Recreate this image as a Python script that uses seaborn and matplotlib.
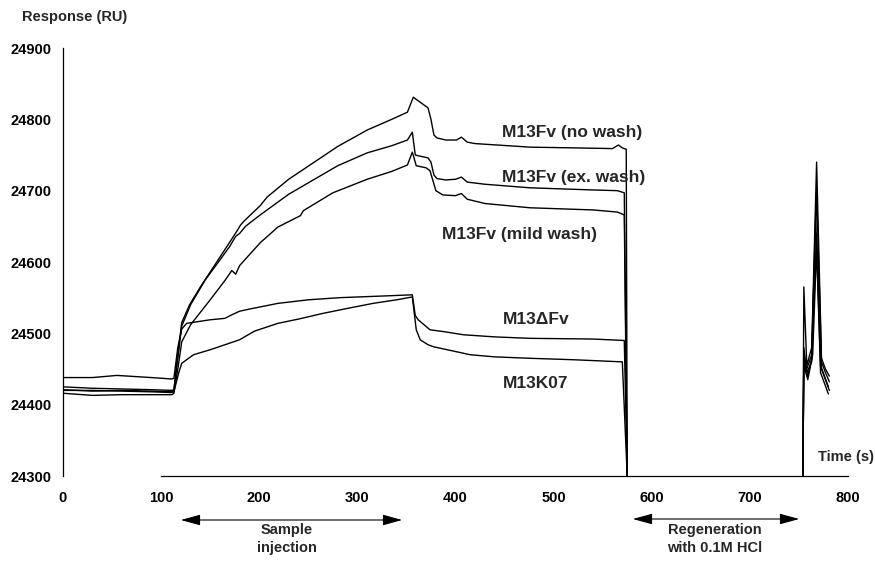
import numpy as np
import pandas as pd
import matplotlib
matplotlib.use("Agg")
import matplotlib.pyplot as plt
import seaborn as sns
from matplotlib.patches import FancyArrowPatch

# ---------------- data ----------------
nowash_t = [0, 30, 60, 90, 111, 113, 117, 121, 129, 140, 160, 170, 178, 181, 185, 201, 208, 230, 255, 280,
            310, 335, 351, 357, 372, 375, 378, 381, 390, 401, 406, 412, 420, 476, 520, 560, 566, 570,
            574, 575, 754, 755, 758, 763, 768, 773, 777, 781]
nowash_ru = [24421, 24419, 24420, 24419, 24418, 24420, 24470, 24515, 24540, 24565, 24607, 24628, 24645,
             24652, 24658, 24679, 24691, 24716, 24739, 24762, 24785, 24800, 24810, 24831, 24816, 24800,
             24778, 24774, 24771, 24771, 24775, 24768, 24766, 24761, 24760, 24759, 24764, 24760, 24758,
             24300, 24300, 24565, 24455, 24480, 24740, 24465, 24450, 24440]

exwash_t = [0, 30, 60, 90, 111, 113, 117, 121, 130, 145, 160, 170, 176, 180, 186, 201, 208, 230, 255, 280,
            310, 335, 351, 356, 359, 365, 372, 375, 378, 381, 390, 400, 406, 412, 430, 476, 540, 565,
            572, 575, 754, 755, 758, 763, 768, 773, 777, 781]
exwash_ru = [24425, 24423, 24422, 24421, 24420, 24421, 24465, 24510, 24540, 24575, 24603, 24622, 24636,
             24640, 24650, 24666, 24673, 24695, 24715, 24735, 24753, 24763, 24771, 24782, 24750, 24748,
             24746, 24740, 24722, 24717, 24715, 24716, 24719, 24712, 24709, 24704, 24701, 24700, 24697,
             24300, 24300, 24470, 24450, 24470, 24700, 24460, 24445, 24432]

mild_t = [0, 30, 60, 90, 111, 113, 117, 121, 130, 150, 165, 172, 176, 180, 201, 219, 242, 245, 275, 310,
          335, 351, 356, 360, 370, 374, 380, 387, 400, 406, 412, 430, 476, 540, 565, 572, 575, 754, 755,
          759, 763, 767, 772, 776, 780]
mild_ru = [24416, 24413, 24414, 24414, 24414, 24416, 24450, 24488, 24512, 24547, 24574, 24588, 24583,
           24595, 24627, 24649, 24665, 24672, 24697, 24716, 24727, 24736, 24754, 24735, 24732, 24728,
           24700, 24694, 24693, 24696, 24688, 24682, 24676, 24673, 24670, 24666, 24300, 24300, 24460,
           24440, 24465, 24665, 24455, 24440, 24425]

dfv_t = [0, 30, 55, 90, 111, 113, 117, 121, 126, 150, 165, 172, 180, 190, 219, 250, 282, 320, 356, 359,
         362, 374, 390, 408, 440, 476, 540, 572, 575, 754, 755, 758, 763, 768, 773, 777, 781]
dfv_ru = [24438, 24438, 24441, 24438, 24436, 24437, 24480, 24506, 24514, 24519, 24521, 24526, 24531,
          24534, 24542, 24547, 24550, 24552, 24554, 24525, 24519, 24505, 24502, 24498, 24495, 24493,
          24492, 24490, 24300, 24300, 24480, 24445, 24460, 24640, 24450, 24435, 24420]

k07_t = [0, 30, 60, 90, 111, 113, 118, 121, 133, 150, 165, 180, 195, 219, 240, 265, 290, 316, 340, 356,
         360, 364, 372, 378, 395, 415, 440, 476, 520, 570, 575, 754, 755, 759, 764, 768, 772, 776, 780]
k07_ru = [24420, 24420, 24419, 24418, 24417, 24418, 24445, 24458, 24470, 24477, 24484, 24491, 24503,
          24514, 24520, 24528, 24535, 24542, 24547, 24551, 24505, 24491, 24484, 24481, 24476, 24470,
          24467, 24465, 24463, 24460, 24300, 24300, 24455, 24435, 24470, 24620, 24445, 24430, 24415]

series_names = ["M13Fv (no wash)", "M13Fv (ex. wash)", "M13Fv (mild wash)", "M13\u0394Fv", "M13K07"]
label_t = [447, 447, 386, 448, 448]
label_ru = [24781, 24718, 24638, 24519, 24430]

x_ticks = [0, 100, 200, 300, 400, 500, 600, 700, 800]
y_ticks = [24300, 24400, 24500, 24600, 24700, 24800, 24900]

# ---------------- build table ----------------
rows = []
for name, t, ru in zip(series_names,
                       [nowash_t, exwash_t, mild_t, dfv_t, k07_t],
                       [nowash_ru, exwash_ru, mild_ru, dfv_ru, k07_ru]):
    for ti, ri in zip(t, ru):
        seg = "a" if ti < 700 else "b"
        rows.append({"time": ti, "ru": ri, "sample": name, "unit": name + seg})
df = pd.DataFrame(rows)

# ---------------- plot ----------------
sns.set_style("white")
plt.rcParams["font.family"] = ["Liberation Sans", "DejaVu Sans"]
plt.rcParams["font.weight"] = "bold"

fig = plt.figure(figsize=(8.75, 5.61), dpi=100)
ax = fig.add_axes([63 / 875, 1 - 476 / 561, (848 - 63) / 875, (476 - 48) / 561])

sns.lineplot(data=df, x="time", y="ru", hue="sample", units="unit", estimator=None,
             sort=False, palette=["black"] * 5, linewidth=1.0, legend=False, ax=ax)

ax.set_xlim(0, 800)
ax.set_ylim(24300, 24900)
ax.set_xticks(x_ticks)
ax.set_yticks(y_ticks)
ax.set_xticklabels([str(v) for v in x_ticks], fontsize=10.5, fontweight="bold")
ax.set_yticklabels([str(v) for v in y_ticks], fontsize=10.5, fontweight="bold")
ax.set_xlabel("")
ax.set_ylabel("")
for s in ["top", "right"]:
    ax.spines[s].set_visible(False)
ax.spines["left"].set_bounds(24300, 24900)
ax.spines["bottom"].set_bounds(100, 800)
for s in ["left", "bottom"]:
    ax.spines[s].set_linewidth(0.9)
    ax.spines[s].set_color("black")
ax.tick_params(axis="x", direction="in", length=3, width=0.9, pad=11, colors="black")
ax.tick_params(axis="y", direction="in", length=0, pad=8, colors="black")

for name, lt, lr in zip(series_names, label_t, label_ru):
    ax.text(lt, lr, name, ha="left", va="center", fontsize=12.5, fontweight="bold")

fig.text(22 / 875, 1 - 17 / 561, "Response (RU)", ha="left", va="center",
         fontsize=10.5, fontweight="bold")
fig.text(874 / 875, 1 - 457 / 561, "Time (s)", ha="right", va="center",
         fontsize=10.5, fontweight="bold")

# annotation arrows below the axis
for x0, x1, y in [(178, 405, 520), (630, 802, 519)]:
    arr = FancyArrowPatch((x0 / 875, 1 - y / 561), (x1 / 875, 1 - y / 561),
                          transform=fig.transFigure,
                          arrowstyle="<|-|>,head_length=1.2,head_width=0.33",
                          mutation_scale=10, color="black", linewidth=0.8)
    fig.patches.append(arr)

fig.text(287 / 875, 1 - 530 / 561, "Sample", ha="center", va="center", fontsize=10.5, fontweight="bold")
fig.text(287 / 875, 1 - 548 / 561, "injection", ha="center", va="center", fontsize=10.5, fontweight="bold")
fig.text(715 / 875, 1 - 530 / 561, "Regeneration", ha="center", va="center", fontsize=10.5, fontweight="bold")
fig.text(715 / 875, 1 - 548 / 561, "with 0.1M HCl", ha="center", va="center", fontsize=10.5, fontweight="bold")

fig.savefig("out.png", dpi=100)
